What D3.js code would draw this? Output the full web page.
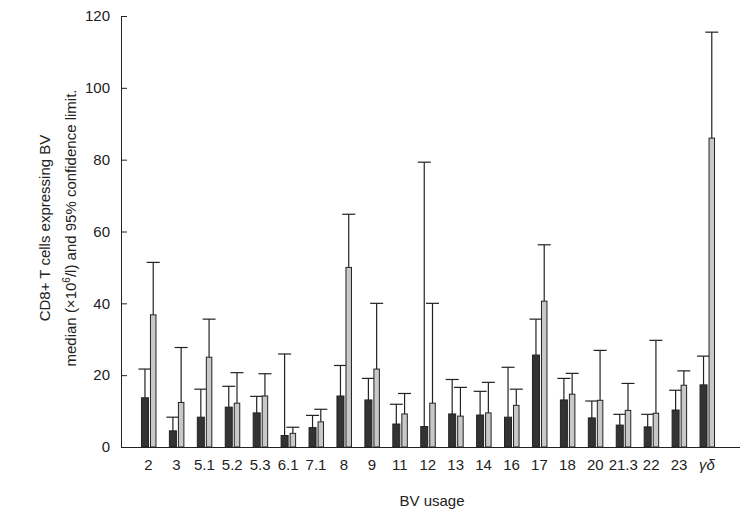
<!DOCTYPE html>
<html>
<head>
<meta charset="utf-8">
<script src="https://cdn.jsdelivr.net/npm/d3@7"></script>
<style>
    body { margin: 0; background: #fff; }
    text { font-family: 'Liberation Sans', Arial, sans-serif; fill: #222; }
</style>
</head>
<body>
<svg id="chart"></svg>
<script>
const categories = ['2', '3', '5.1', '5.2', '5.3', '6.1', '7.1', '8', '9', '11', '12', '13', '14', '16', '17', '18', '20', '21.3', '22', '23', 'γδ'];
const darkMedian = [13.7, 4.5, 8.3, 11.1, 9.5, 3.2, 5.4, 14.2, 13.1, 6.4, 5.7, 9.2, 8.9, 8.3, 25.6, 13.1, 8.1, 6.1, 5.6, 10.3, 17.3];
const darkUpper = [21.7, 8.3, 16.1, 16.9, 14.1, 25.9, 8.8, 22.7, 19.1, 11.9, 79.3, 18.8, 15.5, 22.2, 35.6, 19.1, 12.8, 9.1, 9.1, 15.8, 25.3];
const lightMedian = [36.8, 12.4, 25.0, 12.2, 14.2, 3.8, 7.0, 50.0, 21.7, 9.2, 12.2, 8.6, 9.5, 11.6, 40.6, 14.7, 13.0, 10.2, 9.4, 17.2, 86.0];
const lightUpper = [51.4, 27.7, 35.6, 20.7, 20.4, 5.5, 10.5, 64.8, 40.0, 14.9, 40.0, 16.6, 18.0, 16.1, 56.3, 20.5, 26.9, 17.7, 29.7, 21.2, 115.5];
const yTicks = [0, 20, 40, 60, 80, 100, 120];

const series = ['dark', 'light'];
const rows = [];
categories.forEach((c, i) => {
    rows.push({cat: c, key: 'dark', median: darkMedian[i], upper: darkUpper[i]});
    rows.push({cat: c, key: 'light', median: lightMedian[i], upper: lightUpper[i]});
});

const svg = d3.select('#chart')
    .attr('width', 746)
    .attr('height', 513);

/* scales */
const x = d3.scaleBand()
    .domain(categories)
    .range([135.5, 722]);

const xSub = d3.scaleOrdinal()
    .domain(series)
    .range([-8, 1]);
const barWidth = d3.scaleOrdinal()
    .domain(series)
    .range([7, 5.5]);
const color = d3.scaleOrdinal()
    .domain(series)
    .range(['#333333', '#c8c8c8']);

const y = d3.scaleLinear()
    .domain([0, 120])
    .range([447, 16]);

const center = d => x(d.cat) + x.bandwidth() / 2;

/* y axis with inward ticks */
const yAxis = svg.append('g')
    .attr('transform', 'translate(121,0)')
    .call(d3.axisRight(y).tickValues(yTicks).tickSize(6).tickFormat(d3.format('d')));
yAxis.select('.domain').attr('stroke', '#222').attr('d', 'M0.5,' + y(120) + 'V' + y(0));
yAxis.selectAll('.tick line').attr('stroke', '#222');
yAxis.selectAll('.tick text')
    .attr('x', -11)
    .attr('text-anchor', 'end')
    .style('font-size', '15px');

/* error bars (upper confidence limit) */
const err = svg.append('g')
    .selectAll('g')
    .data(rows)
    .enter().append('g')
    .attr('stroke', '#222')
    .attr('stroke-width', 1.2);

err.append('line')
    .attr('x1', d => center(d) + xSub(d.key) + barWidth(d.key) / 2)
    .attr('x2', d => center(d) + xSub(d.key) + barWidth(d.key) / 2)
    .attr('y1', d => y(d.median))
    .attr('y2', d => y(d.upper));

err.append('line')
    .attr('x1', d => center(d) + xSub(d.key) + barWidth(d.key) / 2 - 6.5)
    .attr('x2', d => center(d) + xSub(d.key) + barWidth(d.key) / 2 + 6.5)
    .attr('y1', d => y(d.upper))
    .attr('y2', d => y(d.upper));

/* bars */
svg.append('g')
    .selectAll('rect')
    .data(rows)
    .enter().append('rect')
    .attr('x', d => center(d) + xSub(d.key))
    .attr('width', d => barWidth(d.key))
    .attr('y', d => y(d.median))
    .attr('height', d => y(0) - y(d.median))
    .attr('fill', d => color(d.key))
    .attr('stroke', '#222')
    .attr('stroke-width', 1);

/* x axis baseline and labels */
const xAxis = svg.append('g')
    .attr('transform', 'translate(0,' + y(0) + ')')
    .call(d3.axisBottom(x).tickSize(0).tickPadding(12));
xAxis.select('.domain').attr('stroke', '#222').attr('d', 'M121,0.5H740');
xAxis.selectAll('.tick text')
    .attr('dx', -1)
    .style('font-size', '15px')
    .style('font-style', d => d === 'γδ' ? 'italic' : 'normal');

/* axis titles */
svg.append('text')
    .attr('x', 432)
    .attr('y', 506)
    .attr('text-anchor', 'middle')
    .style('font-size', '15px')
    .text('BV usage');

const yTitle = svg.append('text')
    .attr('transform', 'translate(50,228) rotate(-90)')
    .attr('text-anchor', 'middle')
    .style('font-size', '15px');
yTitle.append('tspan')
    .attr('x', 0)
    .attr('y', 0)
    .text('CD8+ T cells expressing BV');
const line2 = yTitle.append('tspan')
    .attr('x', 0)
    .attr('y', 26)
    .text('median (×10');
line2.append('tspan')
    .attr('dy', -6)
    .style('font-size', '10px')
    .text('6');
line2.append('tspan')
    .attr('dy', 6)
    .text('/l) and 95% confidence limit.');
</script>
</body>
</html>
